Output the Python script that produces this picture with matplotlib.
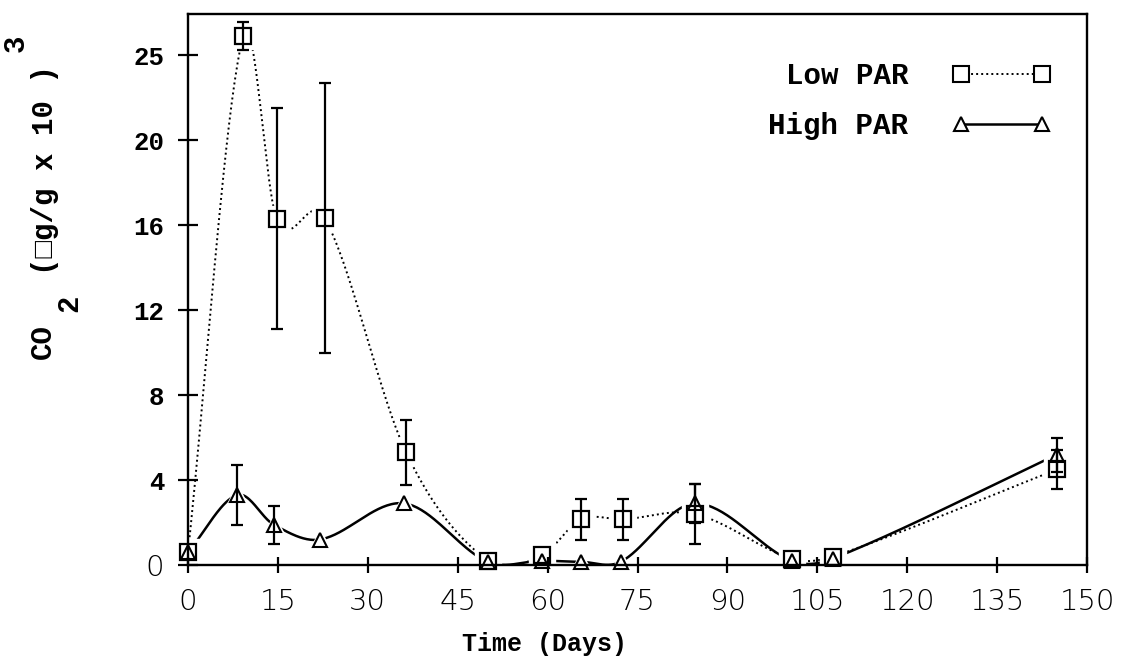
import numpy as np
import matplotlib
matplotlib.use('Agg')
import matplotlib.pyplot as plt
from matplotlib.lines import Line2D

# values (y in axis units, tick "25" sits at 24)
low_days = [0, 9.2, 14.8, 22.8, 36.4, 50, 59, 65.6, 72.5, 84.6, 100.7, 107.6, 145]
low_vals = [0.6, 24.9, 16.3, 16.35, 5.3, 0.2, 0.45, 2.15, 2.15, 2.4, 0.3, 0.4, 4.5]
low_err = [0, 0.65, 5.2, 6.35, 1.55, 0, 0, 0.95, 0.95, 1.4, 0, 0, 0.9]

high_days = [0, 8.2, 14.3, 22.0, 36.1, 50, 59, 65.6, 72.2, 84.6, 100.7, 107.6, 145]
high_vals = [0.6, 3.3, 1.9, 1.2, 2.9, 0.15, 0.2, 0.15, 0.15, 2.9, 0.2, 0.3, 5.2]
high_err = [0, 1.4, 0.9, 0, 0, 0, 0, 0, 0, 0.9, 0, 0, 0.8]

xticks = [0, 15, 30, 45, 60, 75, 90, 105, 120, 135, 150]
yticks = [0, 4, 8, 12, 16, 20, 24]
ytick_labels = ['0', '4', '8', '12', '16', '20', '25']

MONO = ['Liberation Mono', 'DejaVu Sans Mono']
W, H = 1122, 661


def smooth(xs, ys, n=40):
    # cardinal (Catmull-Rom style) curve through the points, like the old plotting package
    xs = np.asarray(xs, float)
    ys = np.asarray(ys, float)
    m = np.zeros_like(ys)
    m[0] = (ys[1] - ys[0]) / (xs[1] - xs[0])
    m[-1] = (ys[-1] - ys[-2]) / (xs[-1] - xs[-2])
    m[1:-1] = (ys[2:] - ys[:-2]) / (xs[2:] - xs[:-2])
    px, py = [], []
    for i in range(len(xs) - 1):
        d = xs[i + 1] - xs[i]
        t = np.linspace(0, 1, n)
        h00 = 2 * t**3 - 3 * t**2 + 1
        h10 = t**3 - 2 * t**2 + t
        h01 = -2 * t**3 + 3 * t**2
        h11 = t**3 - t**2
        px.append(xs[i] + t * d)
        py.append(h00 * ys[i] + h10 * d * m[i] + h01 * ys[i + 1] + h11 * d * m[i + 1])
    return np.concatenate(px), np.concatenate(py)


fig = plt.figure(figsize=(W / 100, H / 100), dpi=100)
ax = fig.add_axes([188 / W, 1 - 565 / H, (1087 - 188) / W, (565 - 14) / H])
ax.set_xlim(0, 150)
ax.set_ylim(0, 25.95)
ax.set_axisbelow(False)

dots = (0, (1, 1.6))

lx, ly = smooth(low_days, low_vals)
hx, hy = smooth(high_days, high_vals)
ax.plot(lx, ly, color='k', lw=1.4, linestyle=dots, zorder=2)
ax.plot(hx, hy, color='k', lw=1.8, zorder=2)

# white halos so the curves stop short of the symbols
ax.plot(low_days, low_vals, linestyle='none', marker='s', ms=19, mfc='white', mec='white',
        zorder=2.2, clip_on=False)
ax.plot(high_days, high_vals, linestyle='none', marker='^', ms=16, mfc='white', mec='white',
        zorder=2.2, clip_on=False)

le = np.array(low_err)
he = np.array(high_err)
mask = le > 0
ax.errorbar(np.array(low_days)[mask], np.array(low_vals)[mask], yerr=le[mask], fmt='none',
            ecolor='k', elinewidth=1.6, capsize=4, capthick=1.6, zorder=3, clip_on=False)
mask = he > 0
ax.errorbar(np.array(high_days)[mask], np.array(high_vals)[mask], yerr=he[mask], fmt='none',
            ecolor='k', elinewidth=1.6, capsize=4, capthick=1.6, zorder=3, clip_on=False)

ax.plot(low_days, low_vals, linestyle='none', marker='s', ms=11.5, mfc='none', mec='k',
        mew=1.6, zorder=4, clip_on=False)
ax.plot(high_days, high_vals, linestyle='none', marker='^', ms=9.5, mfc='none', mec='k',
        mew=1.5, zorder=4, clip_on=False)

for s in ax.spines.values():
    s.set_linewidth(1.7)

ax.set_xticks(xticks)
ax.set_xticklabels([str(v) for v in xticks], fontfamily='DejaVu Sans',
                   fontweight=200, fontsize=21)
ax.set_yticks(yticks)
ax.set_yticklabels(ytick_labels, fontfamily=MONO, fontweight='bold', fontsize=18.5)
for lbl in ax.get_yticklabels():
    if lbl.get_text() == '0':
        lbl.set_fontfamily('DejaVu Sans')
        lbl.set_fontweight(200)
        lbl.set_fontsize(21)
ax.tick_params(axis='x', direction='inout', length=11, width=1.6, pad=11)
ax.tick_params(axis='y', direction='inout', length=14, width=1.6, pad=10)

handles = [
    Line2D([], [], color='k', lw=1.4, linestyle=dots, marker='s', ms=11.5, mfc='white',
           mec='k', mew=1.5),
    Line2D([], [], color='k', lw=1.8, marker='^', ms=9.5, mfc='white', mec='k', mew=1.5),
]
leg = ax.legend(handles, ['Low PAR', 'High PAR'], loc='upper right',
                bbox_to_anchor=(1051 / W, 1 - 62 / H), bbox_transform=fig.transFigure,
                frameon=False, markerfirst=False, numpoints=2, handlelength=3.4,
                handletextpad=1.5, labelspacing=0.75, borderpad=0, borderaxespad=0,
                prop={'family': MONO, 'weight': 'bold', 'size': 21})

# y axis title pieces, placed like the original plotter did
def ytext(x, y, s):
    fig.text(x / W, 1 - y / H, s, rotation=90, ha='center', va='center',
             fontfamily=MONO, fontweight='bold', fontsize=21)

ytext(43, 342, 'CO')
ytext(69, 303, '2')
ytext(45, 170, '(\u25a1g/g x 10 )')
ytext(16, 43, '3')

fig.text(544 / W, 1 - 644 / H, 'Time (Days)', ha='center', va='center',
         fontfamily=MONO, fontweight='bold', fontsize=18)

fig.savefig('out.png', dpi=100)
